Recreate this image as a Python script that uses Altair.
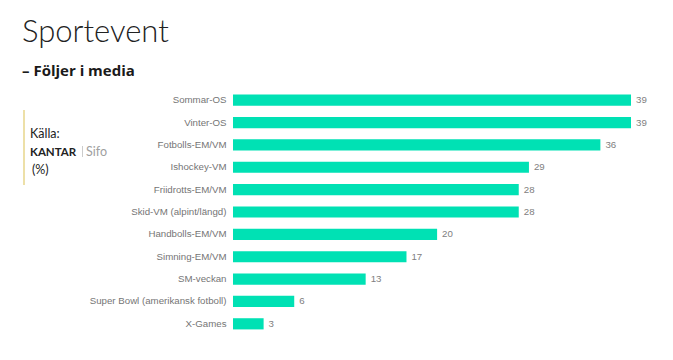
import altair as alt
import pandas as pd

categories = ["Sommar-OS", "Vinter-OS", "Fotbolls-EM/VM", "Ishockey-VM", "Friidrotts-EM/VM",
              "Skid-VM (alpint/längd)", "Handbolls-EM/VM", "Simning-EM/VM", "SM-veckan",
              "Super Bowl (amerikansk fotboll)", "X-Games"]
values = [39, 39, 36, 29, 28, 28, 20, 17, 13, 6, 3]

title_text = "Sportevent"
subtitle_text = "– Följer i media"
source_label = "Källa:"
source_brand = "KANTAR"
source_sub = "Sifo"
unit_text = "(%)"

df = pd.DataFrame({"event": categories, "value": values})

BAR = "#00E1B4"

y_enc = alt.Y("event:N", sort=categories,
              scale=alt.Scale(paddingInner=0.5, paddingOuter=0.25),
              axis=alt.Axis(title=None, domain=False, ticks=False, grid=False, labelPadding=7,
                            labelFont="Liberation Sans", labelFontSize=9.7,
                            labelColor="#757575", labelLimit=300))
x_enc = alt.X("value:Q", scale=alt.Scale(domain=[0, 39], nice=False),
              axis=None)

bars = alt.Chart(df).mark_bar(color=BAR, cornerRadius=0).encode(x=x_enc, y=y_enc)
labels = alt.Chart(df).mark_text(align="left", baseline="middle", dx=5,
                                 font="Liberation Sans", fontSize=9.7,
                                 color="#808080").encode(
    x=x_enc, y=alt.Y("event:N", sort=categories), text="value:Q")

one = pd.DataFrame({"t": [0]})

def txt(text, x, y, size, color, weight="normal", font="Lato"):
    return alt.Chart(one).mark_text(text=text, align="left", baseline="alphabetic",
                                    font=font, fontSize=size, fontWeight=weight,
                                    color=color).encode(x=alt.value(x), y=alt.value(y))

title = txt(title_text, -211, -47, 31, "#222222", weight=300)
subtitle = txt(subtitle_text, -211, -13, 15, "#1a1a1a", weight="bold", font="Open Sans")
src1 = txt(source_label, -203, 49, 12.5, "#222222")
src2 = txt(source_brand, -203, 67, 11.5, "#222222", weight="bold")
src3 = txt(source_sub, -147, 67, 12.5, "#a0a0a0")
src4 = txt(unit_text, -201, 85, 12.5, "#222222")

vline = alt.Chart(one).mark_rule(color="#EDE0A8", strokeWidth=2).encode(
    x=alt.value(-209), y=alt.value(21), y2=alt.value(96))
divider = alt.Chart(one).mark_rule(color="#cccccc", strokeWidth=1).encode(
    x=alt.value(-150.5), y=alt.value(57), y2=alt.value(68))

chart = alt.layer(bars, labels, title, subtitle, vline, divider, src1, src2, src3, src4).properties(
    width=398, height=246,
    background="white",
    autosize=alt.AutoSizeParams(type="none"),
    padding={"left": 225, "top": 81, "right": 34, "bottom": 17},
).configure_view(stroke=None, strokeWidth=0)

chart.save("out.html", embed_options={"renderer": "svg", "actions": False})
